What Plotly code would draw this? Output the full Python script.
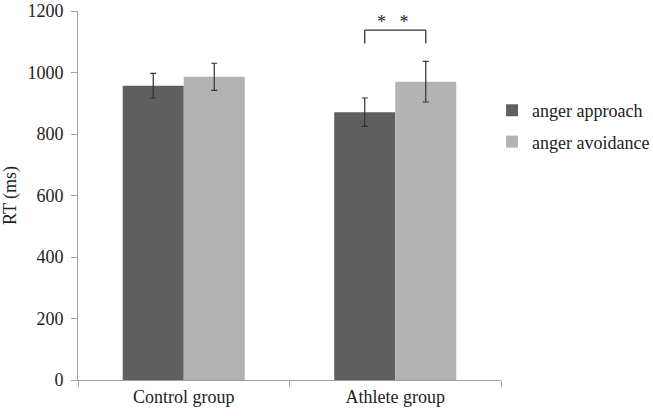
import plotly.graph_objects as go

categories = ["Control group", "Athlete group"]
approach = [957, 871]
approach_err = [40, 46]
avoidance = [986, 970]
avoidance_err = [44, 66]
y_ticks = [0, 200, 400, 600, 800, 1000, 1200]

font = "Liberation Serif"
fsize = 18

fig = go.Figure()
fig.add_trace(go.Bar(
    x=categories, y=approach, name="anger approach", legendgroup="a",
    marker=dict(color="#5f5f5f", line=dict(width=0)),
    error_y=dict(type="data", array=approach_err, color="#333333", thickness=1.2, width=3),
))
fig.add_trace(go.Bar(
    x=categories, y=avoidance, name="anger avoidance", legendgroup="b",
    marker=dict(color="#b3b3b3", line=dict(width=0)),
    error_y=dict(type="data", array=avoidance_err, color="#333333", thickness=1.2, width=3),
))

# significance bracket over the athlete group
half = (1 - 0.423) / 4
x0 = 1 - half
x1 = 1 + half
y_low, y_high = 1094, 1138
for path in [((x0, y_low), (x0, y_high)), ((x0, y_high), (x1, y_high)), ((x1, y_high), (x1, y_low))]:
    fig.add_shape(type="line", xref="x", yref="y",
                  x0=path[0][0], y0=path[0][1], x1=path[1][0], y1=path[1][1],
                  line=dict(color="#333333", width=1.3))
fig.add_annotation(x=0.99, y=y_high, xref="x", yref="y", text="*   *", showarrow=False,
                   yanchor="bottom", yshift=-4, font=dict(family=font, size=18, color="#222222"))

fig.update_layout(
    width=653, height=416,
    margin=dict(l=78, r=152, t=11, b=36, autoexpand=False),
    paper_bgcolor="white", plot_bgcolor="white",
    barmode="group", bargap=0.423, bargroupgap=0,
    font=dict(family=font, size=fsize, color="#222222"),
    showlegend=True,
    legend=dict(xref="container", yref="container", x=0.7535, y=0.697,
                xanchor="left", yanchor="middle", traceorder="grouped",
                font=dict(family=font, size=fsize, color="#222222"),
                itemwidth=30, tracegroupgap=5, bgcolor="rgba(0,0,0,0)"),
    xaxis=dict(type="category", tickson="boundaries", ticks="outside", ticklen=6,
               tickcolor="#a0a0a0", showline=True, linecolor="#a0a0a0", linewidth=1,
               showgrid=False, automargin=False,
               tickfont=dict(family=font, size=fsize, color="#222222")),
    yaxis=dict(range=[0, 1200], tickvals=y_ticks, ticks="outside", ticklen=6,
               tickcolor="#a0a0a0", showline=True, linecolor="#a0a0a0", linewidth=1,
               showgrid=False, zeroline=False, automargin=False, ticklabelstandoff=4,
               title=dict(text="RT (ms)", font=dict(family=font, size=fsize, color="#222222"), standoff=12),
               tickfont=dict(family=font, size=fsize, color="#222222")),
)

# remove the browser's default page margin so the figure fills the window
fig.write_html("out.html", config={"displayModeBar": False},
               post_script="document.body.style.margin='0';")
